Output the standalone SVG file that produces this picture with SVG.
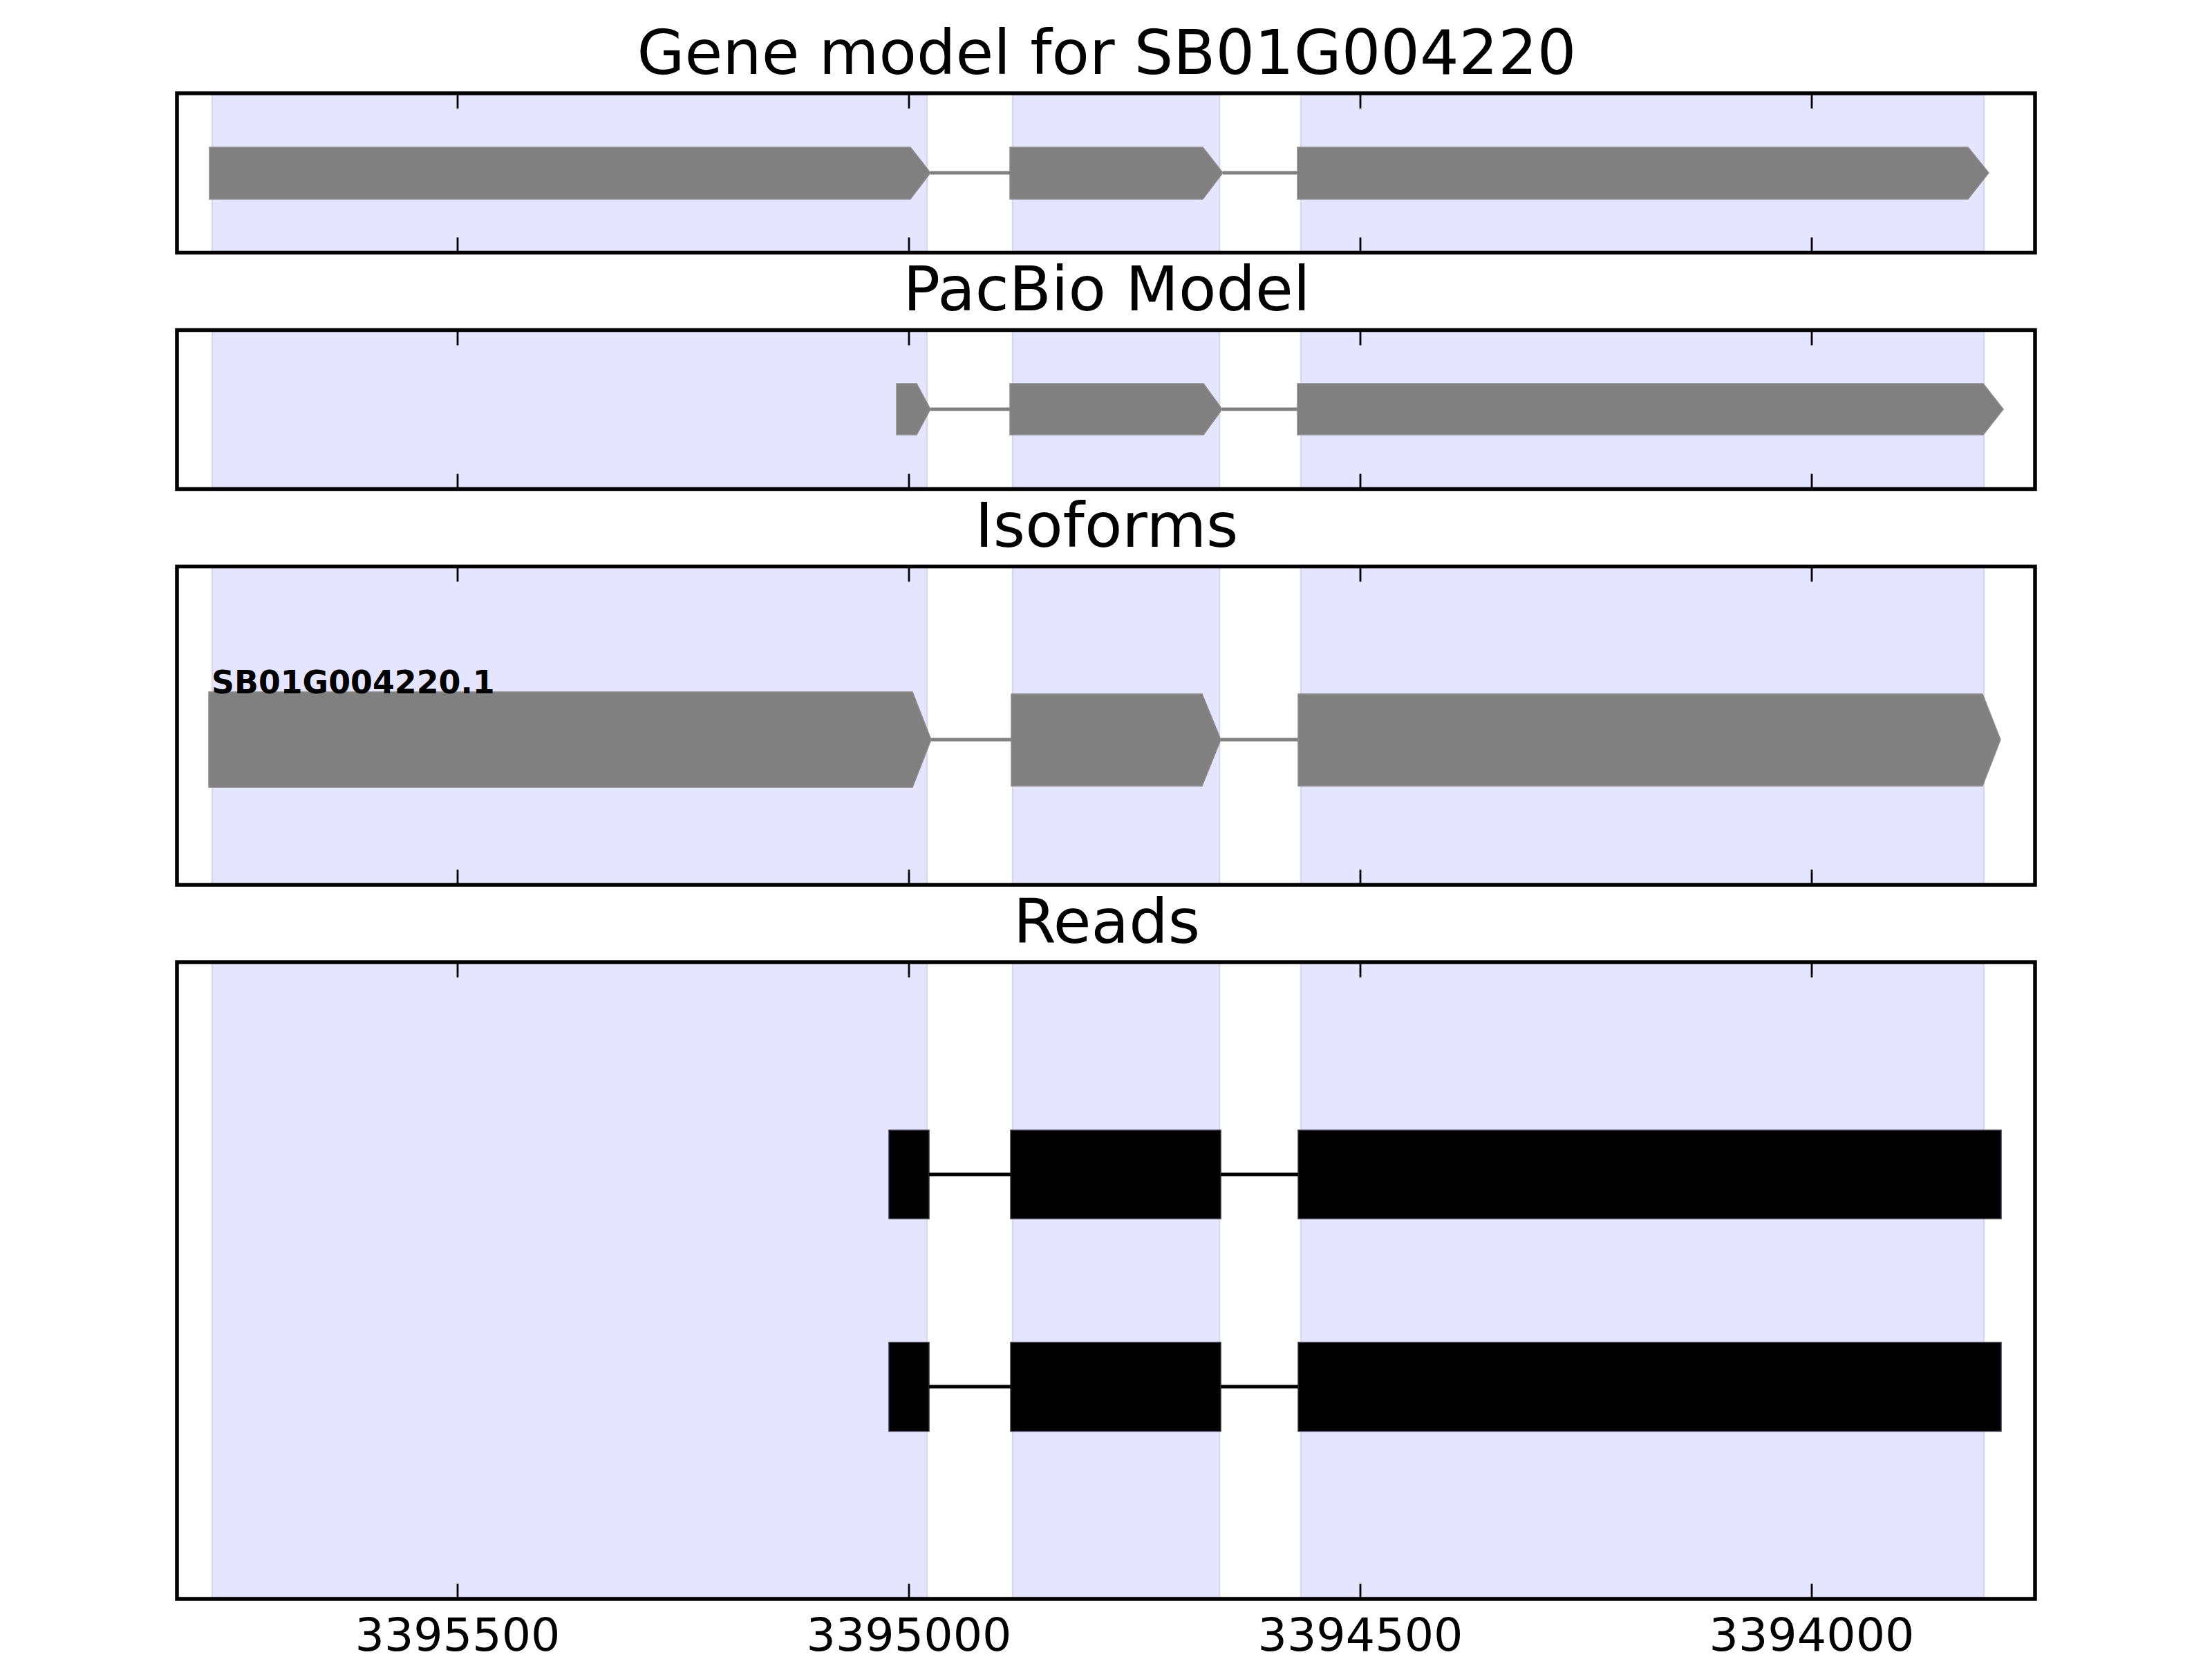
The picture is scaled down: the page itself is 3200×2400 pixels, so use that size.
<svg xmlns="http://www.w3.org/2000/svg" width="3200" height="2400" viewBox="0 0 3200 2400">
<style>
.bg{fill:#ffffff}
.span{fill:#e5e5ff;stroke:#d8d8ee;stroke-width:2.5}
.exon{fill:#808080;stroke:#8c8c8c;stroke-width:1.5}
.read{fill:#000000;stroke:#333340;stroke-width:1.5}
.intron{stroke:#808080;stroke-width:5;fill:none}
.rintron{stroke:#000000;stroke-width:5;fill:none}
.frame{fill:none;stroke:#000000;stroke-width:5.5}
.tick{stroke:#000000;stroke-width:2.8}
.title{font-family:"DejaVu Sans","Liberation Sans",sans-serif;font-size:89px;fill:#000;text-anchor:middle}
.tlabel{font-family:"DejaVu Sans","Liberation Sans",sans-serif;font-size:66.7px;fill:#000;text-anchor:middle}
.iso{font-family:"DejaVu Sans","Liberation Sans",sans-serif;font-size:45.8px;font-weight:bold;fill:#000}
</style>
<defs>
<g id="ticks1">
<line class="tick" x1="662" y1="0" x2="662" y2="22"/>
<line class="tick" x1="1315" y1="0" x2="1315" y2="22"/>
<line class="tick" x1="1968" y1="0" x2="1968" y2="22"/>
<line class="tick" x1="2621" y1="0" x2="2621" y2="22"/>
</g>
</defs>
<rect x="0" y="0" width="3200" height="2400" fill="#ffffff"/>

<!-- Panel 1 -->
<g id="panel-gene-model">
<rect class="bg" x="256" y="135" width="2688" height="230.5"/>
<rect class="span" x="307" y="135" width="1034" height="230.5"/>
<rect class="span" x="1465" y="135" width="299" height="230.5"/>
<rect class="span" x="1882" y="135" width="988" height="230.5"/>
<g id="gm-exon1"><polygon class="exon" points="303,213 1317,213 1346,250 1317,288 303,288"/></g>
<g id="gm-exon2"><polygon class="exon" points="1461,213 1740,213 1769,250 1740,288 1461,288"/></g>
<g id="gm-exon3"><polygon class="exon" points="1877,213 2847,213 2877,250 2847,288 1877,288"/></g>
<use href="#ticks1" transform="translate(0,135)"/>
<use href="#ticks1" transform="translate(0,365.5) scale(1,-1)"/>
<rect class="frame" x="256" y="135" width="2688" height="230.5"/>
<text class="title" x="1601" y="107">Gene model for SB01G004220</text>
</g>

<!-- Panel 2 -->
<g id="panel-pacbio">
<rect class="bg" x="256" y="477.5" width="2688" height="230"/>
<rect class="span" x="307" y="477.5" width="1034" height="230"/>
<rect class="span" x="1465" y="477.5" width="299" height="230"/>
<rect class="span" x="1882" y="477.5" width="988" height="230"/>
<g id="pb-exon1"><polygon class="exon" points="1297,555 1326,555 1346,592 1326,629 1297,629"/></g>
<g id="pb-exon2"><polygon class="exon" points="1461,555 1741,555 1768,592 1741,629 1461,629"/></g>
<g id="pb-exon3"><polygon class="exon" points="1877,555 2869,555 2898,592 2869,629 1877,629"/></g>
<use href="#ticks1" transform="translate(0,477.5)"/>
<use href="#ticks1" transform="translate(0,707.5) scale(1,-1)"/>
<rect class="frame" x="256" y="477.5" width="2688" height="230"/>
<text class="title" x="1601" y="449">PacBio Model</text>
</g>

<!-- Panel 3 -->
<g id="panel-isoforms">
<rect class="bg" x="256" y="819.5" width="2688" height="460.5"/>
<rect class="span" x="307" y="819.5" width="1034" height="460.5"/>
<rect class="span" x="1465" y="819.5" width="299" height="460.5"/>
<rect class="span" x="1882" y="819.5" width="988" height="460.5"/>
<g id="iso-exon1"><polygon class="exon" points="302,1001 1320,1001 1347,1070 1320,1139 302,1139"/></g>
<g id="iso-exon2"><polygon class="exon" points="1463,1004 1739,1004 1766,1070 1739,1137 1463,1137"/></g>
<g id="iso-exon3"><polygon class="exon" points="1878,1004 2868,1004 2894,1070 2868,1137 1878,1137"/></g>
<text class="iso" x="306" y="1003">SB01G004220.1</text>
<use href="#ticks1" transform="translate(0,819.5)"/>
<use href="#ticks1" transform="translate(0,1280) scale(1,-1)"/>
<rect class="frame" x="256" y="819.5" width="2688" height="460.5"/>
<text class="title" x="1601" y="791">Isoforms</text>
</g>

<!-- Panel 4 -->
<g id="panel-reads">
<rect class="bg" x="256" y="1392" width="2688" height="921"/>
<rect class="span" x="307" y="1392" width="1034" height="921"/>
<rect class="span" x="1465" y="1392" width="299" height="921"/>
<rect class="span" x="1882" y="1392" width="988" height="921"/>
<g id="read1">
<rect class="read" x="1286" y="1635" width="58" height="128"/>
<rect class="read" x="1462" y="1635" width="304" height="128"/>
<rect class="read" x="1878" y="1635" width="1017" height="128"/>
</g>
<g id="read2">
<rect class="read" x="1286" y="1942" width="58" height="128.5"/>
<rect class="read" x="1462" y="1942" width="304" height="128.5"/>
<rect class="read" x="1878" y="1942" width="1017" height="128.5"/>
</g>
<use href="#ticks1" transform="translate(0,1392)"/>
<use href="#ticks1" transform="translate(0,2313) scale(1,-1)"/>
<rect class="frame" x="256" y="1392" width="2688" height="921"/>
<text class="title" x="1601" y="1364">Reads</text>
<text class="tlabel" x="662" y="2388">3395500</text>
<text class="tlabel" x="1315" y="2388">3395000</text>
<text class="tlabel" x="1968" y="2388">3394500</text>
<text class="tlabel" x="2621" y="2388">3394000</text>
</g>

<!-- Connectors (introns) -->
<g id="connectors">
<line class="intron" x1="1346" y1="250" x2="1461" y2="250"/>
<line class="intron" x1="1769" y1="250" x2="1877" y2="250"/>
<line class="intron" x1="1346" y1="592" x2="1461" y2="592"/>
<line class="intron" x1="1768" y1="592" x2="1877" y2="592"/>
<line class="intron" x1="1347" y1="1070" x2="1463" y2="1070"/>
<line class="intron" x1="1766" y1="1070" x2="1878" y2="1070"/>
<line class="rintron" x1="1344" y1="1699" x2="1462" y2="1699"/>
<line class="rintron" x1="1766" y1="1699" x2="1878" y2="1699"/>
<line class="rintron" x1="1344" y1="2006" x2="1462" y2="2006"/>
<line class="rintron" x1="1766" y1="2006" x2="1878" y2="2006"/>
</g>
</svg>
